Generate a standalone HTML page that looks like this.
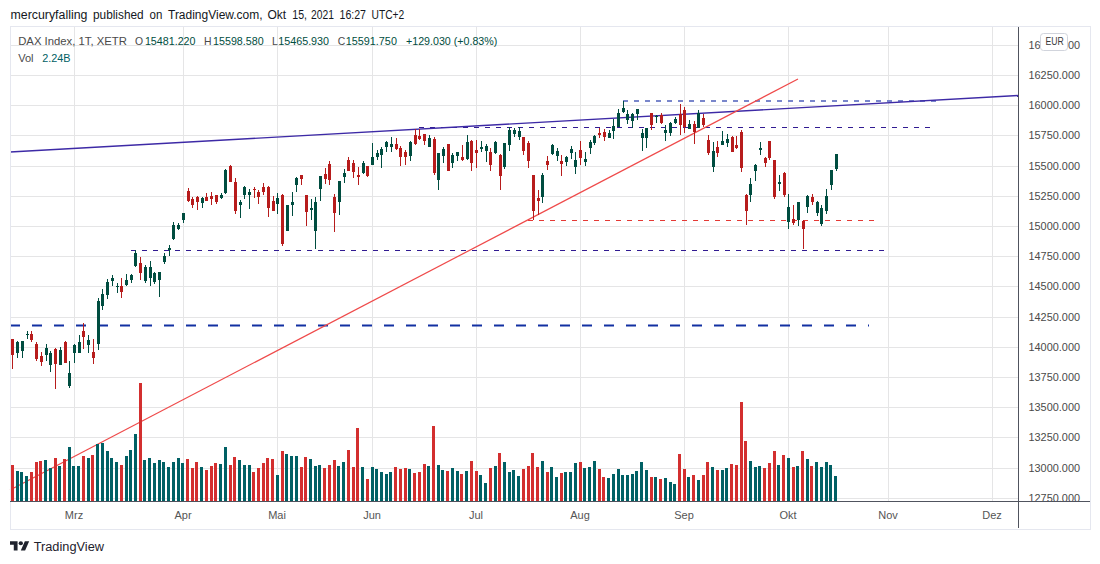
<!DOCTYPE html>
<html><head><meta charset="utf-8"><title>DAX Index chart</title>
<style>
html,body{margin:0;padding:0;background:#fff;}
body{width:1100px;height:564px;overflow:hidden;font-family:"Liberation Sans",sans-serif;}
svg{display:block;}
text{font-family:"Liberation Sans",sans-serif;}
</style></head><body>
<svg width="1100" height="564" viewBox="0 0 1100 564">
<rect x="0" y="0" width="1100" height="564" fill="#ffffff"/>

<g shape-rendering="crispEdges" stroke="#e5e5e6" stroke-width="1">
<line x1="10" y1="45.5" x2="1018" y2="45.5"/>
<line x1="10" y1="75.5" x2="1018" y2="75.5"/>
<line x1="10" y1="105.5" x2="1018" y2="105.5"/>
<line x1="10" y1="135.5" x2="1018" y2="135.5"/>
<line x1="10" y1="166.5" x2="1018" y2="166.5"/>
<line x1="10" y1="196.5" x2="1018" y2="196.5"/>
<line x1="10" y1="226.5" x2="1018" y2="226.5"/>
<line x1="10" y1="256.5" x2="1018" y2="256.5"/>
<line x1="10" y1="286.5" x2="1018" y2="286.5"/>
<line x1="10" y1="317.5" x2="1018" y2="317.5"/>
<line x1="10" y1="347.5" x2="1018" y2="347.5"/>
<line x1="10" y1="377.5" x2="1018" y2="377.5"/>
<line x1="10" y1="407.5" x2="1018" y2="407.5"/>
<line x1="10" y1="437.5" x2="1018" y2="437.5"/>
<line x1="10" y1="468.5" x2="1018" y2="468.5"/>
<line x1="10" y1="498.5" x2="1018" y2="498.5"/>
<line x1="74.5" y1="27" x2="74.5" y2="501"/>
<line x1="183.5" y1="27" x2="183.5" y2="501"/>
<line x1="277.5" y1="27" x2="277.5" y2="501"/>
<line x1="372.5" y1="27" x2="372.5" y2="501"/>
<line x1="476.5" y1="27" x2="476.5" y2="501"/>
<line x1="580.5" y1="27" x2="580.5" y2="501"/>
<line x1="684.5" y1="27" x2="684.5" y2="501"/>
<line x1="788.5" y1="27" x2="788.5" y2="501"/>
<line x1="888.5" y1="27" x2="888.5" y2="501"/>
<line x1="992.5" y1="27" x2="992.5" y2="501"/>
</g>
<g fill="none" shape-rendering="crispEdges">
<line x1="623" y1="101" x2="936" y2="101" stroke="#7986cb" stroke-width="2" stroke-dasharray="5 6"/>
<line x1="419" y1="127.5" x2="931" y2="127.5" stroke="#311b92" stroke-width="1" stroke-dasharray="5 6"/>
<line x1="528" y1="220.5" x2="874" y2="220.5" stroke="#e53935" stroke-width="1" stroke-dasharray="5 6"/>
<line x1="131" y1="250.5" x2="884" y2="250.5" stroke="#311b92" stroke-width="1" stroke-dasharray="5 6"/>
</g>
<line x1="10" y1="325.5" x2="869" y2="325.5" stroke="#1230a2" stroke-width="2.1" stroke-dasharray="10 12" fill="none"/>
<g fill="none">
<line x1="10" y1="152" x2="1018.2" y2="95.5" stroke="#3d2aa6" stroke-width="1.4"/>
<line x1="10" y1="490" x2="798" y2="79" stroke="#ef4a4a" stroke-width="1.2"/>
</g>
<g shape-rendering="crispEdges">
<rect x="11" y="465.0" width="3" height="36.0" fill="#d32f2f"/>
<rect x="16" y="471.0" width="3" height="30.0" fill="#006064"/>
<rect x="20" y="472.0" width="3" height="29.0" fill="#006064"/>
<rect x="25" y="476.0" width="3" height="25.0" fill="#006064"/>
<rect x="30" y="472.0" width="3" height="29.0" fill="#d32f2f"/>
<rect x="35" y="462.0" width="3" height="39.0" fill="#d32f2f"/>
<rect x="39" y="461.0" width="3" height="40.0" fill="#d32f2f"/>
<rect x="44" y="460.0" width="3" height="41.0" fill="#006064"/>
<rect x="49" y="468.0" width="3" height="33.0" fill="#006064"/>
<rect x="54" y="458.0" width="3" height="43.0" fill="#d32f2f"/>
<rect x="58" y="466.0" width="3" height="35.0" fill="#006064"/>
<rect x="63" y="459.0" width="3" height="42.0" fill="#d32f2f"/>
<rect x="68" y="447.0" width="3" height="54.0" fill="#006064"/>
<rect x="72" y="466.0" width="3" height="35.0" fill="#006064"/>
<rect x="77" y="466.0" width="3" height="35.0" fill="#006064"/>
<rect x="82" y="456.0" width="3" height="45.0" fill="#d32f2f"/>
<rect x="87" y="458.0" width="3" height="43.0" fill="#006064"/>
<rect x="91" y="455.0" width="3" height="46.0" fill="#d32f2f"/>
<rect x="96" y="444.0" width="3" height="57.0" fill="#006064"/>
<rect x="101" y="443.0" width="3" height="58.0" fill="#006064"/>
<rect x="106" y="451.0" width="3" height="50.0" fill="#006064"/>
<rect x="110" y="458.0" width="3" height="43.0" fill="#006064"/>
<rect x="115" y="462.0" width="3" height="39.0" fill="#006064"/>
<rect x="120" y="465.0" width="3" height="36.0" fill="#d32f2f"/>
<rect x="125" y="456.0" width="3" height="45.0" fill="#006064"/>
<rect x="129" y="450.0" width="3" height="51.0" fill="#006064"/>
<rect x="134" y="434.0" width="3" height="67.0" fill="#006064"/>
<rect x="139" y="383.0" width="3" height="118.0" fill="#d32f2f"/>
<rect x="143" y="460.0" width="3" height="41.0" fill="#006064"/>
<rect x="148" y="458.0" width="3" height="43.0" fill="#006064"/>
<rect x="153" y="463.0" width="3" height="38.0" fill="#006064"/>
<rect x="158" y="460.0" width="3" height="41.0" fill="#006064"/>
<rect x="162" y="462.0" width="3" height="39.0" fill="#006064"/>
<rect x="167" y="467.0" width="3" height="34.0" fill="#006064"/>
<rect x="172" y="462.0" width="3" height="39.0" fill="#006064"/>
<rect x="177" y="458.0" width="3" height="43.0" fill="#006064"/>
<rect x="181" y="463.0" width="3" height="38.0" fill="#006064"/>
<rect x="186" y="459.0" width="3" height="42.0" fill="#d32f2f"/>
<rect x="191" y="468.0" width="3" height="33.0" fill="#d32f2f"/>
<rect x="195" y="462.0" width="3" height="39.0" fill="#d32f2f"/>
<rect x="200" y="467.0" width="3" height="34.0" fill="#006064"/>
<rect x="205" y="470.0" width="3" height="31.0" fill="#d32f2f"/>
<rect x="210" y="466.0" width="3" height="35.0" fill="#d32f2f"/>
<rect x="214" y="463.0" width="3" height="38.0" fill="#d32f2f"/>
<rect x="219" y="464.0" width="3" height="37.0" fill="#006064"/>
<rect x="224" y="447.0" width="3" height="54.0" fill="#006064"/>
<rect x="229" y="465.0" width="3" height="36.0" fill="#d32f2f"/>
<rect x="233" y="457.0" width="3" height="44.0" fill="#d32f2f"/>
<rect x="238" y="460.0" width="3" height="41.0" fill="#006064"/>
<rect x="243" y="465.0" width="3" height="36.0" fill="#006064"/>
<rect x="248" y="465.0" width="3" height="36.0" fill="#006064"/>
<rect x="252" y="472.0" width="3" height="29.0" fill="#d32f2f"/>
<rect x="257" y="468.0" width="3" height="33.0" fill="#d32f2f"/>
<rect x="262" y="463.0" width="3" height="38.0" fill="#d32f2f"/>
<rect x="266" y="458.0" width="3" height="43.0" fill="#d32f2f"/>
<rect x="271" y="459.0" width="3" height="42.0" fill="#d32f2f"/>
<rect x="276" y="475.0" width="3" height="26.0" fill="#006064"/>
<rect x="281" y="451.0" width="3" height="50.0" fill="#d32f2f"/>
<rect x="285" y="454.0" width="3" height="47.0" fill="#006064"/>
<rect x="290" y="456.0" width="3" height="45.0" fill="#006064"/>
<rect x="295" y="456.0" width="3" height="45.0" fill="#006064"/>
<rect x="300" y="467.0" width="3" height="34.0" fill="#d32f2f"/>
<rect x="304" y="457.0" width="3" height="44.0" fill="#d32f2f"/>
<rect x="309" y="459.0" width="3" height="42.0" fill="#006064"/>
<rect x="314" y="466.0" width="3" height="35.0" fill="#006064"/>
<rect x="318" y="465.0" width="3" height="36.0" fill="#006064"/>
<rect x="323" y="468.0" width="3" height="33.0" fill="#d32f2f"/>
<rect x="328" y="465.0" width="3" height="36.0" fill="#d32f2f"/>
<rect x="333" y="460.0" width="3" height="41.0" fill="#d32f2f"/>
<rect x="337" y="466.0" width="3" height="35.0" fill="#006064"/>
<rect x="342" y="462.0" width="3" height="39.0" fill="#006064"/>
<rect x="347" y="450.0" width="3" height="51.0" fill="#d32f2f"/>
<rect x="352" y="467.0" width="3" height="34.0" fill="#d32f2f"/>
<rect x="356" y="428.0" width="3" height="73.0" fill="#d32f2f"/>
<rect x="361" y="467.0" width="3" height="34.0" fill="#006064"/>
<rect x="366" y="479.0" width="3" height="22.0" fill="#d32f2f"/>
<rect x="371" y="467.0" width="3" height="34.0" fill="#006064"/>
<rect x="375" y="469.0" width="3" height="32.0" fill="#006064"/>
<rect x="380" y="472.0" width="3" height="29.0" fill="#006064"/>
<rect x="385" y="474.0" width="3" height="27.0" fill="#006064"/>
<rect x="389" y="472.0" width="3" height="29.0" fill="#006064"/>
<rect x="394" y="467.0" width="3" height="34.0" fill="#d32f2f"/>
<rect x="399" y="469.0" width="3" height="32.0" fill="#d32f2f"/>
<rect x="404" y="468.0" width="3" height="33.0" fill="#d32f2f"/>
<rect x="408" y="469.0" width="3" height="32.0" fill="#006064"/>
<rect x="413" y="473.0" width="3" height="28.0" fill="#d32f2f"/>
<rect x="418" y="472.0" width="3" height="29.0" fill="#d32f2f"/>
<rect x="423" y="464.0" width="3" height="37.0" fill="#d32f2f"/>
<rect x="427" y="466.0" width="3" height="35.0" fill="#006064"/>
<rect x="432" y="426.0" width="3" height="75.0" fill="#d32f2f"/>
<rect x="437" y="465.0" width="3" height="36.0" fill="#006064"/>
<rect x="441" y="470.0" width="3" height="31.0" fill="#006064"/>
<rect x="446" y="471.0" width="3" height="30.0" fill="#d32f2f"/>
<rect x="451" y="468.0" width="3" height="33.0" fill="#006064"/>
<rect x="456" y="471.0" width="3" height="30.0" fill="#006064"/>
<rect x="460" y="474.0" width="3" height="27.0" fill="#d32f2f"/>
<rect x="465" y="471.0" width="3" height="30.0" fill="#006064"/>
<rect x="470" y="461.0" width="3" height="40.0" fill="#d32f2f"/>
<rect x="475" y="471.0" width="3" height="30.0" fill="#d32f2f"/>
<rect x="479" y="475.0" width="3" height="26.0" fill="#006064"/>
<rect x="484" y="483.0" width="3" height="18.0" fill="#006064"/>
<rect x="489" y="468.0" width="3" height="33.0" fill="#d32f2f"/>
<rect x="494" y="466.0" width="3" height="35.0" fill="#006064"/>
<rect x="498" y="453.0" width="3" height="48.0" fill="#d32f2f"/>
<rect x="503" y="462.0" width="3" height="39.0" fill="#006064"/>
<rect x="508" y="472.0" width="3" height="29.0" fill="#006064"/>
<rect x="512" y="470.0" width="3" height="31.0" fill="#006064"/>
<rect x="517" y="476.0" width="3" height="25.0" fill="#006064"/>
<rect x="522" y="469.0" width="3" height="32.0" fill="#d32f2f"/>
<rect x="527" y="466.0" width="3" height="35.0" fill="#d32f2f"/>
<rect x="531" y="453.0" width="3" height="48.0" fill="#d32f2f"/>
<rect x="536" y="467.0" width="3" height="34.0" fill="#d32f2f"/>
<rect x="541" y="461.0" width="3" height="40.0" fill="#006064"/>
<rect x="546" y="472.0" width="3" height="29.0" fill="#d32f2f"/>
<rect x="550" y="467.0" width="3" height="34.0" fill="#006064"/>
<rect x="555" y="477.0" width="3" height="24.0" fill="#006064"/>
<rect x="560" y="473.0" width="3" height="28.0" fill="#d32f2f"/>
<rect x="564" y="472.0" width="3" height="29.0" fill="#006064"/>
<rect x="569" y="472.0" width="3" height="29.0" fill="#006064"/>
<rect x="574" y="463.0" width="3" height="38.0" fill="#006064"/>
<rect x="579" y="462.0" width="3" height="39.0" fill="#d32f2f"/>
<rect x="583" y="468.0" width="3" height="33.0" fill="#006064"/>
<rect x="588" y="467.0" width="3" height="34.0" fill="#006064"/>
<rect x="593" y="461.0" width="3" height="40.0" fill="#006064"/>
<rect x="598" y="469.0" width="3" height="32.0" fill="#d32f2f"/>
<rect x="602" y="477.0" width="3" height="24.0" fill="#d32f2f"/>
<rect x="607" y="478.0" width="3" height="23.0" fill="#006064"/>
<rect x="612" y="474.0" width="3" height="27.0" fill="#006064"/>
<rect x="617" y="469.0" width="3" height="32.0" fill="#006064"/>
<rect x="621" y="475.0" width="3" height="26.0" fill="#006064"/>
<rect x="626" y="475.0" width="3" height="26.0" fill="#006064"/>
<rect x="631" y="474.0" width="3" height="27.0" fill="#006064"/>
<rect x="635" y="471.0" width="3" height="30.0" fill="#006064"/>
<rect x="640" y="462.0" width="3" height="39.0" fill="#006064"/>
<rect x="645" y="470.0" width="3" height="31.0" fill="#006064"/>
<rect x="650" y="477.0" width="3" height="24.0" fill="#d32f2f"/>
<rect x="654" y="477.0" width="3" height="24.0" fill="#006064"/>
<rect x="659" y="479.0" width="3" height="22.0" fill="#d32f2f"/>
<rect x="664" y="478.0" width="3" height="23.0" fill="#006064"/>
<rect x="669" y="482.0" width="3" height="19.0" fill="#006064"/>
<rect x="673" y="484.0" width="3" height="17.0" fill="#006064"/>
<rect x="678" y="454.0" width="3" height="47.0" fill="#d32f2f"/>
<rect x="683" y="469.0" width="3" height="32.0" fill="#d32f2f"/>
<rect x="687" y="477.0" width="3" height="24.0" fill="#006064"/>
<rect x="692" y="475.0" width="3" height="26.0" fill="#d32f2f"/>
<rect x="697" y="480.0" width="3" height="21.0" fill="#006064"/>
<rect x="702" y="475.0" width="3" height="26.0" fill="#d32f2f"/>
<rect x="706" y="462.0" width="3" height="39.0" fill="#d32f2f"/>
<rect x="711" y="467.0" width="3" height="34.0" fill="#006064"/>
<rect x="716" y="470.0" width="3" height="31.0" fill="#d32f2f"/>
<rect x="721" y="470.0" width="3" height="31.0" fill="#006064"/>
<rect x="725" y="468.0" width="3" height="33.0" fill="#006064"/>
<rect x="730" y="464.0" width="3" height="37.0" fill="#d32f2f"/>
<rect x="735" y="465.0" width="3" height="36.0" fill="#d32f2f"/>
<rect x="740" y="402.0" width="3" height="99.0" fill="#d32f2f"/>
<rect x="744" y="441.0" width="3" height="60.0" fill="#d32f2f"/>
<rect x="749" y="461.0" width="3" height="40.0" fill="#006064"/>
<rect x="754" y="467.0" width="3" height="34.0" fill="#006064"/>
<rect x="758" y="466.0" width="3" height="35.0" fill="#006064"/>
<rect x="763" y="468.0" width="3" height="33.0" fill="#d32f2f"/>
<rect x="768" y="463.0" width="3" height="38.0" fill="#d32f2f"/>
<rect x="773" y="451.0" width="3" height="50.0" fill="#d32f2f"/>
<rect x="777" y="465.0" width="3" height="36.0" fill="#006064"/>
<rect x="782" y="455.0" width="3" height="46.0" fill="#d32f2f"/>
<rect x="787" y="458.0" width="3" height="43.0" fill="#006064"/>
<rect x="792" y="467.0" width="3" height="34.0" fill="#d32f2f"/>
<rect x="796" y="466.0" width="3" height="35.0" fill="#006064"/>
<rect x="801" y="451.0" width="3" height="50.0" fill="#d32f2f"/>
<rect x="806" y="459.0" width="3" height="42.0" fill="#006064"/>
<rect x="810" y="466.0" width="3" height="35.0" fill="#d32f2f"/>
<rect x="815" y="462.0" width="3" height="39.0" fill="#006064"/>
<rect x="820" y="467.0" width="3" height="34.0" fill="#006064"/>
<rect x="825" y="462.0" width="3" height="39.0" fill="#006064"/>
<rect x="829" y="465.0" width="3" height="36.0" fill="#006064"/>
<rect x="834" y="476.0" width="3" height="25.0" fill="#006064"/>
</g>
<g shape-rendering="crispEdges">
<rect x="12" y="339" width="1" height="30" fill="#b71c1c"/>
<rect x="11" y="339" width="3" height="16" fill="#b71c1c"/>
<rect x="17" y="341" width="1" height="17" fill="#004d40"/>
<rect x="16" y="342" width="3" height="11" fill="#004d40"/>
<rect x="22" y="341" width="1" height="17" fill="#004d40"/>
<rect x="21" y="341" width="3" height="10" fill="#004d40"/>
<rect x="27" y="331" width="1" height="8" fill="#004d40"/>
<rect x="26" y="334" width="3" height="1" fill="#004d40"/>
<rect x="31" y="331" width="1" height="11" fill="#b71c1c"/>
<rect x="30" y="334" width="3" height="6" fill="#b71c1c"/>
<rect x="36" y="342" width="1" height="19" fill="#b71c1c"/>
<rect x="35" y="344" width="3" height="15" fill="#b71c1c"/>
<rect x="41" y="352" width="1" height="14" fill="#b71c1c"/>
<rect x="40" y="356" width="3" height="6" fill="#b71c1c"/>
<rect x="46" y="344" width="1" height="17" fill="#004d40"/>
<rect x="45" y="348" width="3" height="7" fill="#004d40"/>
<rect x="50" y="351" width="1" height="21" fill="#004d40"/>
<rect x="49" y="353" width="3" height="12" fill="#004d40"/>
<rect x="55" y="348" width="1" height="41" fill="#b71c1c"/>
<rect x="54" y="349" width="3" height="15" fill="#b71c1c"/>
<rect x="60" y="347" width="1" height="18" fill="#004d40"/>
<rect x="59" y="350" width="3" height="15" fill="#004d40"/>
<rect x="65" y="341" width="1" height="22" fill="#b71c1c"/>
<rect x="64" y="342" width="3" height="21" fill="#b71c1c"/>
<rect x="69" y="361" width="1" height="27" fill="#004d40"/>
<rect x="68" y="373" width="3" height="13" fill="#004d40"/>
<rect x="74" y="344" width="1" height="19" fill="#004d40"/>
<rect x="73" y="345" width="3" height="8" fill="#004d40"/>
<rect x="79" y="335" width="1" height="18" fill="#004d40"/>
<rect x="78" y="342" width="3" height="11" fill="#004d40"/>
<rect x="83" y="323" width="1" height="26" fill="#b71c1c"/>
<rect x="82" y="331" width="3" height="6" fill="#b71c1c"/>
<rect x="88" y="335" width="1" height="18" fill="#004d40"/>
<rect x="87" y="340" width="3" height="5" fill="#004d40"/>
<rect x="93" y="339" width="1" height="25" fill="#b71c1c"/>
<rect x="92" y="352" width="3" height="6" fill="#b71c1c"/>
<rect x="98" y="298" width="1" height="52" fill="#004d40"/>
<rect x="97" y="301" width="3" height="43" fill="#004d40"/>
<rect x="102" y="289" width="1" height="21" fill="#004d40"/>
<rect x="101" y="294" width="3" height="12" fill="#004d40"/>
<rect x="107" y="279" width="1" height="20" fill="#004d40"/>
<rect x="106" y="282" width="3" height="13" fill="#004d40"/>
<rect x="112" y="275" width="1" height="11" fill="#004d40"/>
<rect x="111" y="278" width="3" height="3" fill="#004d40"/>
<rect x="117" y="283" width="1" height="10" fill="#004d40"/>
<rect x="116" y="286" width="3" height="1" fill="#004d40"/>
<rect x="121" y="278" width="1" height="20" fill="#b71c1c"/>
<rect x="120" y="286" width="3" height="6" fill="#b71c1c"/>
<rect x="126" y="274" width="1" height="12" fill="#004d40"/>
<rect x="125" y="280" width="3" height="5" fill="#004d40"/>
<rect x="131" y="274" width="1" height="9" fill="#004d40"/>
<rect x="130" y="275" width="3" height="5" fill="#004d40"/>
<rect x="135" y="250" width="1" height="17" fill="#004d40"/>
<rect x="134" y="253" width="3" height="13" fill="#004d40"/>
<rect x="140" y="257" width="1" height="23" fill="#b71c1c"/>
<rect x="139" y="263" width="3" height="10" fill="#b71c1c"/>
<rect x="145" y="265" width="1" height="18" fill="#004d40"/>
<rect x="144" y="267" width="3" height="14" fill="#004d40"/>
<rect x="150" y="261" width="1" height="25" fill="#004d40"/>
<rect x="149" y="267" width="3" height="11" fill="#004d40"/>
<rect x="154" y="272" width="1" height="12" fill="#004d40"/>
<rect x="153" y="273" width="3" height="9" fill="#004d40"/>
<rect x="159" y="272" width="1" height="25" fill="#004d40"/>
<rect x="158" y="272" width="3" height="8" fill="#004d40"/>
<rect x="164" y="253" width="1" height="11" fill="#004d40"/>
<rect x="163" y="256" width="3" height="6" fill="#004d40"/>
<rect x="169" y="245" width="1" height="11" fill="#004d40"/>
<rect x="168" y="248" width="3" height="2" fill="#004d40"/>
<rect x="173" y="222" width="1" height="18" fill="#004d40"/>
<rect x="172" y="225" width="3" height="14" fill="#004d40"/>
<rect x="178" y="223" width="1" height="7" fill="#004d40"/>
<rect x="177" y="225" width="3" height="4" fill="#004d40"/>
<rect x="183" y="213" width="1" height="10" fill="#004d40"/>
<rect x="182" y="213" width="3" height="7" fill="#004d40"/>
<rect x="188" y="188" width="1" height="14" fill="#b71c1c"/>
<rect x="187" y="191" width="3" height="10" fill="#b71c1c"/>
<rect x="192" y="197" width="1" height="11" fill="#b71c1c"/>
<rect x="191" y="199" width="3" height="6" fill="#b71c1c"/>
<rect x="197" y="196" width="1" height="14" fill="#b71c1c"/>
<rect x="196" y="197" width="3" height="5" fill="#b71c1c"/>
<rect x="202" y="197" width="1" height="11" fill="#004d40"/>
<rect x="201" y="198" width="3" height="5" fill="#004d40"/>
<rect x="206" y="193" width="1" height="8" fill="#b71c1c"/>
<rect x="205" y="197" width="3" height="4" fill="#b71c1c"/>
<rect x="211" y="192" width="1" height="13" fill="#b71c1c"/>
<rect x="210" y="196" width="3" height="3" fill="#b71c1c"/>
<rect x="216" y="195" width="1" height="9" fill="#b71c1c"/>
<rect x="215" y="195" width="3" height="7" fill="#b71c1c"/>
<rect x="221" y="193" width="1" height="6" fill="#004d40"/>
<rect x="220" y="195" width="3" height="3" fill="#004d40"/>
<rect x="225" y="169" width="1" height="25" fill="#004d40"/>
<rect x="224" y="170" width="3" height="23" fill="#004d40"/>
<rect x="230" y="165" width="1" height="17" fill="#b71c1c"/>
<rect x="229" y="166" width="3" height="16" fill="#b71c1c"/>
<rect x="235" y="178" width="1" height="36" fill="#b71c1c"/>
<rect x="234" y="182" width="3" height="29" fill="#b71c1c"/>
<rect x="240" y="200" width="1" height="18" fill="#004d40"/>
<rect x="239" y="202" width="3" height="3" fill="#004d40"/>
<rect x="244" y="186" width="1" height="13" fill="#004d40"/>
<rect x="243" y="187" width="3" height="8" fill="#004d40"/>
<rect x="249" y="189" width="1" height="20" fill="#004d40"/>
<rect x="248" y="192" width="3" height="3" fill="#004d40"/>
<rect x="254" y="187" width="1" height="11" fill="#b71c1c"/>
<rect x="253" y="189" width="3" height="1" fill="#b71c1c"/>
<rect x="258" y="190" width="1" height="14" fill="#b71c1c"/>
<rect x="257" y="192" width="3" height="5" fill="#b71c1c"/>
<rect x="263" y="183" width="1" height="12" fill="#b71c1c"/>
<rect x="262" y="187" width="3" height="5" fill="#b71c1c"/>
<rect x="268" y="186" width="1" height="31" fill="#b71c1c"/>
<rect x="267" y="187" width="3" height="21" fill="#b71c1c"/>
<rect x="273" y="196" width="1" height="15" fill="#b71c1c"/>
<rect x="272" y="201" width="3" height="10" fill="#b71c1c"/>
<rect x="277" y="193" width="1" height="21" fill="#004d40"/>
<rect x="276" y="198" width="3" height="6" fill="#004d40"/>
<rect x="282" y="194" width="1" height="52" fill="#b71c1c"/>
<rect x="281" y="195" width="3" height="49" fill="#b71c1c"/>
<rect x="287" y="205" width="1" height="26" fill="#004d40"/>
<rect x="286" y="205" width="3" height="26" fill="#004d40"/>
<rect x="292" y="192" width="1" height="24" fill="#004d40"/>
<rect x="291" y="202" width="3" height="3" fill="#004d40"/>
<rect x="296" y="177" width="1" height="15" fill="#004d40"/>
<rect x="295" y="178" width="3" height="7" fill="#004d40"/>
<rect x="301" y="175" width="1" height="10" fill="#b71c1c"/>
<rect x="300" y="175" width="3" height="4" fill="#b71c1c"/>
<rect x="306" y="195" width="1" height="31" fill="#b71c1c"/>
<rect x="305" y="195" width="3" height="17" fill="#b71c1c"/>
<rect x="311" y="199" width="1" height="21" fill="#004d40"/>
<rect x="310" y="208" width="3" height="2" fill="#004d40"/>
<rect x="315" y="197" width="1" height="52" fill="#004d40"/>
<rect x="314" y="202" width="3" height="29" fill="#004d40"/>
<rect x="320" y="176" width="1" height="25" fill="#004d40"/>
<rect x="319" y="176" width="3" height="13" fill="#004d40"/>
<rect x="325" y="168" width="1" height="16" fill="#b71c1c"/>
<rect x="324" y="174" width="3" height="5" fill="#b71c1c"/>
<rect x="329" y="161" width="1" height="24" fill="#b71c1c"/>
<rect x="328" y="164" width="3" height="16" fill="#b71c1c"/>
<rect x="334" y="194" width="1" height="38" fill="#b71c1c"/>
<rect x="333" y="197" width="3" height="16" fill="#b71c1c"/>
<rect x="339" y="181" width="1" height="34" fill="#004d40"/>
<rect x="338" y="181" width="3" height="21" fill="#004d40"/>
<rect x="344" y="169" width="1" height="14" fill="#004d40"/>
<rect x="343" y="173" width="3" height="4" fill="#004d40"/>
<rect x="348" y="157" width="1" height="14" fill="#b71c1c"/>
<rect x="347" y="160" width="3" height="11" fill="#b71c1c"/>
<rect x="353" y="160" width="1" height="18" fill="#b71c1c"/>
<rect x="352" y="163" width="3" height="9" fill="#b71c1c"/>
<rect x="358" y="167" width="1" height="18" fill="#b71c1c"/>
<rect x="357" y="175" width="3" height="2" fill="#b71c1c"/>
<rect x="363" y="161" width="1" height="13" fill="#004d40"/>
<rect x="362" y="163" width="3" height="10" fill="#004d40"/>
<rect x="367" y="166" width="1" height="11" fill="#b71c1c"/>
<rect x="366" y="166" width="3" height="10" fill="#b71c1c"/>
<rect x="372" y="143" width="1" height="22" fill="#004d40"/>
<rect x="371" y="157" width="3" height="8" fill="#004d40"/>
<rect x="377" y="150" width="1" height="10" fill="#004d40"/>
<rect x="376" y="153" width="3" height="4" fill="#004d40"/>
<rect x="381" y="147" width="1" height="21" fill="#004d40"/>
<rect x="380" y="149" width="3" height="6" fill="#004d40"/>
<rect x="386" y="141" width="1" height="11" fill="#004d40"/>
<rect x="385" y="142" width="3" height="5" fill="#004d40"/>
<rect x="391" y="137" width="1" height="15" fill="#004d40"/>
<rect x="390" y="144" width="3" height="3" fill="#004d40"/>
<rect x="396" y="138" width="1" height="12" fill="#b71c1c"/>
<rect x="395" y="144" width="3" height="5" fill="#b71c1c"/>
<rect x="400" y="146" width="1" height="20" fill="#b71c1c"/>
<rect x="399" y="148" width="3" height="9" fill="#b71c1c"/>
<rect x="405" y="150" width="1" height="15" fill="#b71c1c"/>
<rect x="404" y="152" width="3" height="5" fill="#b71c1c"/>
<rect x="410" y="141" width="1" height="20" fill="#004d40"/>
<rect x="409" y="142" width="3" height="14" fill="#004d40"/>
<rect x="415" y="129" width="1" height="16" fill="#b71c1c"/>
<rect x="414" y="135" width="3" height="9" fill="#b71c1c"/>
<rect x="419" y="129" width="1" height="11" fill="#b71c1c"/>
<rect x="418" y="136" width="3" height="3" fill="#b71c1c"/>
<rect x="424" y="134" width="1" height="11" fill="#b71c1c"/>
<rect x="423" y="134" width="3" height="7" fill="#b71c1c"/>
<rect x="429" y="135" width="1" height="12" fill="#004d40"/>
<rect x="428" y="138" width="3" height="9" fill="#004d40"/>
<rect x="434" y="137" width="1" height="38" fill="#b71c1c"/>
<rect x="433" y="139" width="3" height="34" fill="#b71c1c"/>
<rect x="438" y="153" width="1" height="37" fill="#004d40"/>
<rect x="437" y="153" width="3" height="27" fill="#004d40"/>
<rect x="443" y="147" width="1" height="16" fill="#004d40"/>
<rect x="442" y="149" width="3" height="7" fill="#004d40"/>
<rect x="448" y="144" width="1" height="27" fill="#b71c1c"/>
<rect x="447" y="144" width="3" height="27" fill="#b71c1c"/>
<rect x="452" y="153" width="1" height="15" fill="#004d40"/>
<rect x="451" y="155" width="3" height="8" fill="#004d40"/>
<rect x="457" y="152" width="1" height="9" fill="#004d40"/>
<rect x="456" y="152" width="3" height="4" fill="#004d40"/>
<rect x="462" y="145" width="1" height="16" fill="#b71c1c"/>
<rect x="461" y="157" width="3" height="3" fill="#b71c1c"/>
<rect x="467" y="135" width="1" height="25" fill="#004d40"/>
<rect x="466" y="142" width="3" height="17" fill="#004d40"/>
<rect x="471" y="140" width="1" height="31" fill="#b71c1c"/>
<rect x="470" y="141" width="3" height="22" fill="#b71c1c"/>
<rect x="476" y="140" width="1" height="28" fill="#b71c1c"/>
<rect x="475" y="150" width="3" height="3" fill="#b71c1c"/>
<rect x="481" y="141" width="1" height="11" fill="#004d40"/>
<rect x="480" y="147" width="3" height="2" fill="#004d40"/>
<rect x="486" y="144" width="1" height="18" fill="#004d40"/>
<rect x="485" y="146" width="3" height="5" fill="#004d40"/>
<rect x="490" y="148" width="1" height="23" fill="#b71c1c"/>
<rect x="489" y="152" width="3" height="13" fill="#b71c1c"/>
<rect x="495" y="141" width="1" height="13" fill="#004d40"/>
<rect x="494" y="142" width="3" height="11" fill="#004d40"/>
<rect x="500" y="154" width="1" height="36" fill="#b71c1c"/>
<rect x="499" y="155" width="3" height="21" fill="#b71c1c"/>
<rect x="504" y="143" width="1" height="26" fill="#004d40"/>
<rect x="503" y="143" width="3" height="24" fill="#004d40"/>
<rect x="509" y="127" width="1" height="24" fill="#004d40"/>
<rect x="508" y="130" width="3" height="15" fill="#004d40"/>
<rect x="514" y="128" width="1" height="9" fill="#004d40"/>
<rect x="513" y="130" width="3" height="4" fill="#004d40"/>
<rect x="519" y="127" width="1" height="13" fill="#004d40"/>
<rect x="518" y="131" width="3" height="6" fill="#004d40"/>
<rect x="523" y="137" width="1" height="18" fill="#b71c1c"/>
<rect x="522" y="137" width="3" height="14" fill="#b71c1c"/>
<rect x="528" y="141" width="1" height="27" fill="#b71c1c"/>
<rect x="527" y="143" width="3" height="18" fill="#b71c1c"/>
<rect x="533" y="175" width="1" height="45" fill="#b71c1c"/>
<rect x="532" y="175" width="3" height="36" fill="#b71c1c"/>
<rect x="538" y="190" width="1" height="25" fill="#b71c1c"/>
<rect x="537" y="198" width="3" height="3" fill="#b71c1c"/>
<rect x="542" y="173" width="1" height="30" fill="#004d40"/>
<rect x="541" y="175" width="3" height="22" fill="#004d40"/>
<rect x="547" y="156" width="1" height="14" fill="#b71c1c"/>
<rect x="546" y="161" width="3" height="4" fill="#b71c1c"/>
<rect x="552" y="144" width="1" height="11" fill="#004d40"/>
<rect x="551" y="145" width="3" height="9" fill="#004d40"/>
<rect x="557" y="148" width="1" height="13" fill="#004d40"/>
<rect x="556" y="151" width="3" height="5" fill="#004d40"/>
<rect x="561" y="155" width="1" height="21" fill="#b71c1c"/>
<rect x="560" y="161" width="3" height="3" fill="#b71c1c"/>
<rect x="566" y="156" width="1" height="10" fill="#004d40"/>
<rect x="565" y="157" width="3" height="5" fill="#004d40"/>
<rect x="571" y="146" width="1" height="13" fill="#004d40"/>
<rect x="570" y="149" width="3" height="4" fill="#004d40"/>
<rect x="575" y="152" width="1" height="22" fill="#004d40"/>
<rect x="574" y="160" width="3" height="7" fill="#004d40"/>
<rect x="580" y="141" width="1" height="24" fill="#b71c1c"/>
<rect x="579" y="150" width="3" height="8" fill="#b71c1c"/>
<rect x="585" y="152" width="1" height="14" fill="#004d40"/>
<rect x="584" y="159" width="3" height="3" fill="#004d40"/>
<rect x="590" y="140" width="1" height="14" fill="#004d40"/>
<rect x="589" y="142" width="3" height="6" fill="#004d40"/>
<rect x="594" y="135" width="1" height="10" fill="#004d40"/>
<rect x="593" y="136" width="3" height="7" fill="#004d40"/>
<rect x="599" y="128" width="1" height="10" fill="#b71c1c"/>
<rect x="598" y="133" width="3" height="2" fill="#b71c1c"/>
<rect x="604" y="129" width="1" height="12" fill="#b71c1c"/>
<rect x="603" y="132" width="3" height="5" fill="#b71c1c"/>
<rect x="609" y="130" width="1" height="8" fill="#004d40"/>
<rect x="608" y="133" width="3" height="5" fill="#004d40"/>
<rect x="613" y="119" width="1" height="20" fill="#004d40"/>
<rect x="612" y="126" width="3" height="5" fill="#004d40"/>
<rect x="618" y="109" width="1" height="18" fill="#004d40"/>
<rect x="617" y="113" width="3" height="14" fill="#004d40"/>
<rect x="623" y="101" width="1" height="12" fill="#004d40"/>
<rect x="622" y="108" width="3" height="4" fill="#004d40"/>
<rect x="627" y="110" width="1" height="14" fill="#004d40"/>
<rect x="626" y="114" width="3" height="6" fill="#004d40"/>
<rect x="632" y="113" width="1" height="15" fill="#004d40"/>
<rect x="631" y="114" width="3" height="7" fill="#004d40"/>
<rect x="637" y="109" width="1" height="11" fill="#004d40"/>
<rect x="636" y="109" width="3" height="5" fill="#004d40"/>
<rect x="642" y="129" width="1" height="22" fill="#004d40"/>
<rect x="641" y="133" width="3" height="5" fill="#004d40"/>
<rect x="646" y="128" width="1" height="20" fill="#004d40"/>
<rect x="645" y="128" width="3" height="10" fill="#004d40"/>
<rect x="651" y="113" width="1" height="17" fill="#b71c1c"/>
<rect x="650" y="113" width="3" height="12" fill="#b71c1c"/>
<rect x="656" y="115" width="1" height="8" fill="#004d40"/>
<rect x="655" y="116" width="3" height="1" fill="#004d40"/>
<rect x="661" y="113" width="1" height="11" fill="#b71c1c"/>
<rect x="660" y="115" width="3" height="8" fill="#b71c1c"/>
<rect x="665" y="125" width="1" height="16" fill="#004d40"/>
<rect x="664" y="130" width="3" height="3" fill="#004d40"/>
<rect x="670" y="122" width="1" height="14" fill="#004d40"/>
<rect x="669" y="123" width="3" height="10" fill="#004d40"/>
<rect x="675" y="117" width="1" height="7" fill="#004d40"/>
<rect x="674" y="119" width="3" height="4" fill="#004d40"/>
<rect x="680" y="104" width="1" height="31" fill="#b71c1c"/>
<rect x="679" y="114" width="3" height="11" fill="#b71c1c"/>
<rect x="684" y="107" width="1" height="26" fill="#b71c1c"/>
<rect x="683" y="110" width="3" height="17" fill="#b71c1c"/>
<rect x="689" y="120" width="1" height="9" fill="#004d40"/>
<rect x="688" y="124" width="3" height="5" fill="#004d40"/>
<rect x="694" y="121" width="1" height="23" fill="#b71c1c"/>
<rect x="693" y="124" width="3" height="8" fill="#b71c1c"/>
<rect x="698" y="110" width="1" height="18" fill="#004d40"/>
<rect x="697" y="113" width="3" height="15" fill="#004d40"/>
<rect x="703" y="114" width="1" height="13" fill="#b71c1c"/>
<rect x="702" y="118" width="3" height="7" fill="#b71c1c"/>
<rect x="708" y="135" width="1" height="20" fill="#b71c1c"/>
<rect x="707" y="140" width="3" height="13" fill="#b71c1c"/>
<rect x="713" y="142" width="1" height="30" fill="#004d40"/>
<rect x="712" y="151" width="3" height="16" fill="#004d40"/>
<rect x="717" y="141" width="1" height="16" fill="#b71c1c"/>
<rect x="716" y="147" width="3" height="6" fill="#b71c1c"/>
<rect x="722" y="131" width="1" height="14" fill="#004d40"/>
<rect x="721" y="141" width="3" height="4" fill="#004d40"/>
<rect x="727" y="134" width="1" height="13" fill="#004d40"/>
<rect x="726" y="139" width="3" height="4" fill="#004d40"/>
<rect x="732" y="136" width="1" height="16" fill="#b71c1c"/>
<rect x="731" y="137" width="3" height="15" fill="#b71c1c"/>
<rect x="736" y="136" width="1" height="13" fill="#b71c1c"/>
<rect x="735" y="145" width="3" height="3" fill="#b71c1c"/>
<rect x="741" y="130" width="1" height="42" fill="#b71c1c"/>
<rect x="740" y="132" width="3" height="36" fill="#b71c1c"/>
<rect x="746" y="194" width="1" height="31" fill="#b71c1c"/>
<rect x="745" y="195" width="3" height="16" fill="#b71c1c"/>
<rect x="750" y="178" width="1" height="24" fill="#004d40"/>
<rect x="749" y="184" width="3" height="11" fill="#004d40"/>
<rect x="755" y="164" width="1" height="17" fill="#004d40"/>
<rect x="754" y="165" width="3" height="6" fill="#004d40"/>
<rect x="760" y="142" width="1" height="13" fill="#004d40"/>
<rect x="759" y="148" width="3" height="2" fill="#004d40"/>
<rect x="765" y="157" width="1" height="10" fill="#b71c1c"/>
<rect x="764" y="158" width="3" height="5" fill="#b71c1c"/>
<rect x="769" y="141" width="1" height="19" fill="#b71c1c"/>
<rect x="768" y="141" width="3" height="17" fill="#b71c1c"/>
<rect x="774" y="160" width="1" height="39" fill="#b71c1c"/>
<rect x="773" y="160" width="3" height="37" fill="#b71c1c"/>
<rect x="779" y="175" width="1" height="16" fill="#004d40"/>
<rect x="778" y="182" width="3" height="2" fill="#004d40"/>
<rect x="784" y="172" width="1" height="25" fill="#b71c1c"/>
<rect x="783" y="173" width="3" height="22" fill="#b71c1c"/>
<rect x="788" y="194" width="1" height="35" fill="#004d40"/>
<rect x="787" y="207" width="3" height="15" fill="#004d40"/>
<rect x="793" y="205" width="1" height="20" fill="#b71c1c"/>
<rect x="792" y="219" width="3" height="4" fill="#b71c1c"/>
<rect x="798" y="202" width="1" height="24" fill="#004d40"/>
<rect x="797" y="202" width="3" height="18" fill="#004d40"/>
<rect x="803" y="220" width="1" height="29" fill="#b71c1c"/>
<rect x="802" y="221" width="3" height="8" fill="#b71c1c"/>
<rect x="807" y="195" width="1" height="18" fill="#004d40"/>
<rect x="806" y="196" width="3" height="11" fill="#004d40"/>
<rect x="812" y="194" width="1" height="11" fill="#b71c1c"/>
<rect x="811" y="197" width="3" height="5" fill="#b71c1c"/>
<rect x="817" y="201" width="1" height="15" fill="#004d40"/>
<rect x="816" y="202" width="3" height="11" fill="#004d40"/>
<rect x="821" y="205" width="1" height="21" fill="#004d40"/>
<rect x="820" y="208" width="3" height="16" fill="#004d40"/>
<rect x="826" y="189" width="1" height="25" fill="#004d40"/>
<rect x="825" y="196" width="3" height="15" fill="#004d40"/>
<rect x="831" y="170" width="1" height="20" fill="#004d40"/>
<rect x="830" y="170" width="3" height="15" fill="#004d40"/>
<rect x="836" y="154" width="1" height="17" fill="#004d40"/>
<rect x="835" y="154" width="3" height="15" fill="#004d40"/>
</g>
<rect x="1019" y="27" width="71" height="474" fill="#ffffff"/>
<rect x="10" y="502" width="1080" height="27" fill="#ffffff"/>
<rect x="10.5" y="26.5" width="1080" height="502.5" fill="none" stroke="#e5e7ef" stroke-width="1" shape-rendering="crispEdges"/>
<g shape-rendering="crispEdges" stroke="#50535e" stroke-width="1">
<line x1="1018.5" y1="27" x2="1018.5" y2="528"/>
<line x1="10" y1="501.5" x2="1090" y2="501.5"/>
</g>
<g font-size="11" fill="#4a4a4a">
<text x="1028.5" y="49.2" textLength="51.5" lengthAdjust="spacingAndGlyphs">16500.000</text>
<text x="1028.5" y="79.2" textLength="51.5" lengthAdjust="spacingAndGlyphs">16250.000</text>
<text x="1028.5" y="109.2" textLength="51.5" lengthAdjust="spacingAndGlyphs">16000.000</text>
<text x="1028.5" y="139.2" textLength="51.5" lengthAdjust="spacingAndGlyphs">15750.000</text>
<text x="1028.5" y="170.2" textLength="51.5" lengthAdjust="spacingAndGlyphs">15500.000</text>
<text x="1028.5" y="200.2" textLength="51.5" lengthAdjust="spacingAndGlyphs">15250.000</text>
<text x="1028.5" y="230.2" textLength="51.5" lengthAdjust="spacingAndGlyphs">15000.000</text>
<text x="1028.5" y="260.2" textLength="51.5" lengthAdjust="spacingAndGlyphs">14750.000</text>
<text x="1028.5" y="290.2" textLength="51.5" lengthAdjust="spacingAndGlyphs">14500.000</text>
<text x="1028.5" y="321.2" textLength="51.5" lengthAdjust="spacingAndGlyphs">14250.000</text>
<text x="1028.5" y="351.2" textLength="51.5" lengthAdjust="spacingAndGlyphs">14000.000</text>
<text x="1028.5" y="381.2" textLength="51.5" lengthAdjust="spacingAndGlyphs">13750.000</text>
<text x="1028.5" y="411.2" textLength="51.5" lengthAdjust="spacingAndGlyphs">13500.000</text>
<text x="1028.5" y="441.2" textLength="51.5" lengthAdjust="spacingAndGlyphs">13250.000</text>
<text x="1028.5" y="472.2" textLength="51.5" lengthAdjust="spacingAndGlyphs">13000.000</text>
<text x="1028.5" y="502.2" textLength="51.5" lengthAdjust="spacingAndGlyphs">12750.000</text>
</g>
<rect x="1019" y="501" width="71" height="1" fill="#50535e" shape-rendering="crispEdges"/>
<rect x="1019" y="502" width="71" height="26" fill="#ffffff"/>
<rect x="1040.5" y="33.5" width="27" height="17" rx="3" ry="3" fill="#ffffff" stroke="#d1d4dc" stroke-width="1"/>
<text x="1045.5" y="45" font-size="10.5" fill="#3a3a3a" textLength="18.2" lengthAdjust="spacingAndGlyphs">EUR</text>
<g font-size="11" fill="#555555" text-anchor="middle">
<text x="74.0" y="519.3">Mrz</text>
<text x="183.0" y="519.3">Apr</text>
<text x="277.0" y="519.3">Mai</text>
<text x="372.0" y="519.3">Jun</text>
<text x="476.0" y="519.3">Jul</text>
<text x="580.0" y="519.3">Aug</text>
<text x="684.0" y="519.3">Sep</text>
<text x="788.0" y="519.3">Okt</text>
<text x="888.0" y="519.3">Nov</text>
<text x="992.0" y="519.3">Dez</text>
</g>
<g font-size="12" fill="#131722">
<text x="10.5" y="19" textLength="76.9" lengthAdjust="spacingAndGlyphs">mercuryfalling</text>
<text x="93.0" y="19" textLength="50.6" lengthAdjust="spacingAndGlyphs">published</text>
<text x="149.5" y="19" textLength="12.8" lengthAdjust="spacingAndGlyphs">on</text>
<text x="168.0" y="19" textLength="94.6" lengthAdjust="spacingAndGlyphs">TradingView.com,</text>
<text x="267.5" y="19" textLength="18.7" lengthAdjust="spacingAndGlyphs">Okt</text>
<text x="292.3" y="19" textLength="14.7" lengthAdjust="spacingAndGlyphs">15,</text>
<text x="311.1" y="19" textLength="22.9" lengthAdjust="spacingAndGlyphs">2021</text>
<text x="339.5" y="19" textLength="26.5" lengthAdjust="spacingAndGlyphs">16:27</text>
<text x="371.5" y="19" textLength="32.8" lengthAdjust="spacingAndGlyphs">UTC+2</text>
</g>
<g font-size="11">
<text x="18.2" y="45.1" fill="#4a4a4a" textLength="108.7" lengthAdjust="spacingAndGlyphs">DAX Index, 1T, XETR</text>
<text x="135.1" y="45.1" fill="#4a4a4a" font-size="10.4">O</text>
<text x="144.9" y="45.1" fill="#004d40" textLength="50.6" lengthAdjust="spacingAndGlyphs">15481.220</text>
<text x="204.1" y="45.1" fill="#4a4a4a" font-size="10.4">H</text>
<text x="213.1" y="45.1" fill="#004d40" textLength="50.5" lengthAdjust="spacingAndGlyphs">15598.580</text>
<text x="272.0" y="45.1" fill="#4a4a4a" font-size="10.4">L</text>
<text x="278.2" y="45.1" fill="#004d40" textLength="50.9" lengthAdjust="spacingAndGlyphs">15465.930</text>
<text x="337.8" y="45.1" fill="#4a4a4a" font-size="10.4">C</text>
<text x="345.8" y="45.1" fill="#004d40" textLength="51.1" lengthAdjust="spacingAndGlyphs">15591.750</text>
<text x="406.0" y="45.1" fill="#004d40" textLength="91.3" lengthAdjust="spacingAndGlyphs">+129.030 (+0.83%)</text>
<text x="18.2" y="62.4" fill="#4a4a4a" textLength="15.4" lengthAdjust="spacingAndGlyphs">Vol</text>
<text x="42.2" y="62.4" fill="#006064" textLength="28.3" lengthAdjust="spacingAndGlyphs">2.24B</text>
</g>
<g transform="translate(10,539.2) scale(0.54,0.51)" fill="#1e222d"><path d="M14 22H7V11H0V4h14v18zM28 22h-8l7.5-18h8L28 22z"/><circle cx="20" cy="8" r="4"/></g>
<text x="33.7" y="551" font-size="12.5" fill="#1e222d" textLength="70.3" lengthAdjust="spacingAndGlyphs">TradingView</text>
</svg></body></html>
